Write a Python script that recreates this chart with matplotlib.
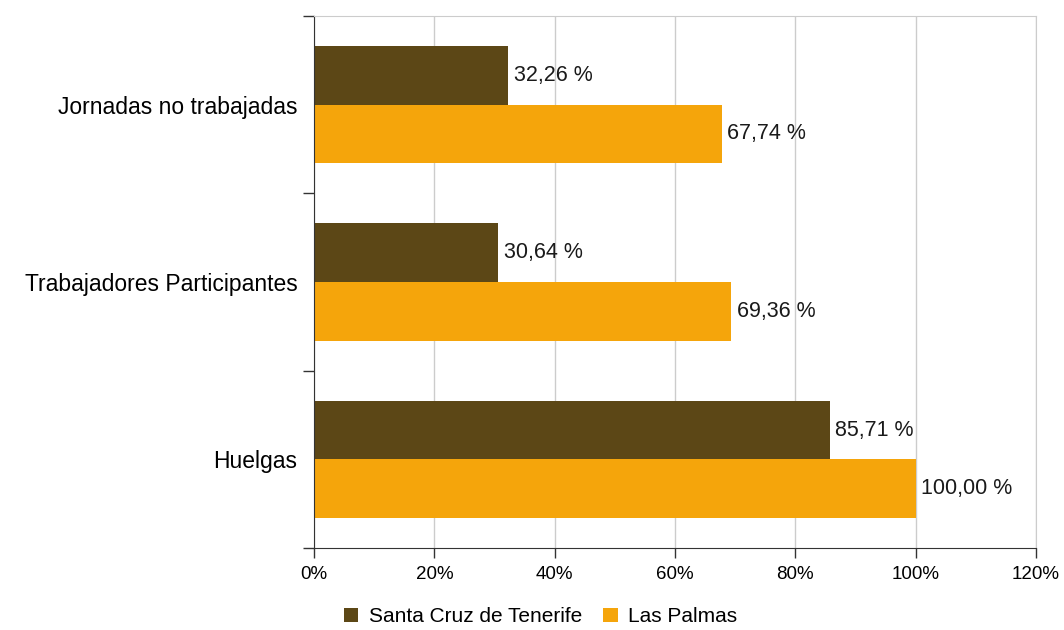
import matplotlib.pyplot as plt
import numpy as np

categories = ['Huelgas', 'Trabajadores Participantes', 'Jornadas no trabajadas']
santa_cruz = [85.71, 30.64, 32.26]
las_palmas = [100.00, 69.36, 67.74]
series_names = ['Santa Cruz de Tenerife', 'Las Palmas']
x_ticks = [0, 20, 40, 60, 80, 100, 120]

plt.rcParams['font.family'] = ['Liberation Sans', 'DejaVu Sans']

dark = '#5c4716'
orange = '#f5a50b'

fig = plt.figure(figsize=(10.64, 6.30), dpi=100)
ax = fig.add_axes([0.2951, 0.1302, 0.6786, 0.8444])

y = np.arange(len(categories))
h = 0.33
b1 = ax.barh(y + h / 2, santa_cruz, h, color=dark, label=series_names[0], zorder=2)
b2 = ax.barh(y - h / 2, las_palmas, h, color=orange, label=series_names[1], zorder=2)

# value labels just past the end of each bar
for bars in (b1, b2):
    for bar in bars:
        w = bar.get_width()
        ax.annotate(f"{w:.2f} %".replace('.', ','),
                    xy=(w, bar.get_y() + bar.get_height() / 2),
                    xytext=(4, 0), textcoords='offset points',
                    ha='left', va='center', fontsize=15.5, color='#1a1a1a')

ax.set_xlim(0, 120)
ax.set_ylim(-0.5, 2.5)
ax.set_xticks(x_ticks)
ax.set_xticklabels([f"{t}%" for t in x_ticks], fontsize=13.5)
ax.set_yticks([-0.5, 0.5, 1.5, 2.5])
ax.set_yticklabels([])
ax.set_yticks(y, minor=True)
ax.set_yticklabels(categories, minor=True, fontsize=16.5)
ax.tick_params(axis='y', which='minor', length=0, pad=12)
ax.tick_params(axis='y', which='major', length=8, width=1, color='#333333')
ax.tick_params(axis='x', length=7, width=1, color='#333333', pad=6)

ax.grid(axis='x', color='#cccccc', linewidth=1, zorder=0)
ax.set_axisbelow(True)
for s in ('top', 'right'):
    ax.spines[s].set_color('#cccccc')
for s in ('left', 'bottom'):
    ax.spines[s].set_color('#333333')

fig.legend(handles=[b1, b2], loc='lower center', bbox_to_anchor=(0.508, -0.024),
           ncol=2, frameon=False, fontsize=15, handlelength=0.7,
           handleheight=0.7, handletextpad=0.5, columnspacing=1.0)

fig.savefig('out.png', dpi=100)
